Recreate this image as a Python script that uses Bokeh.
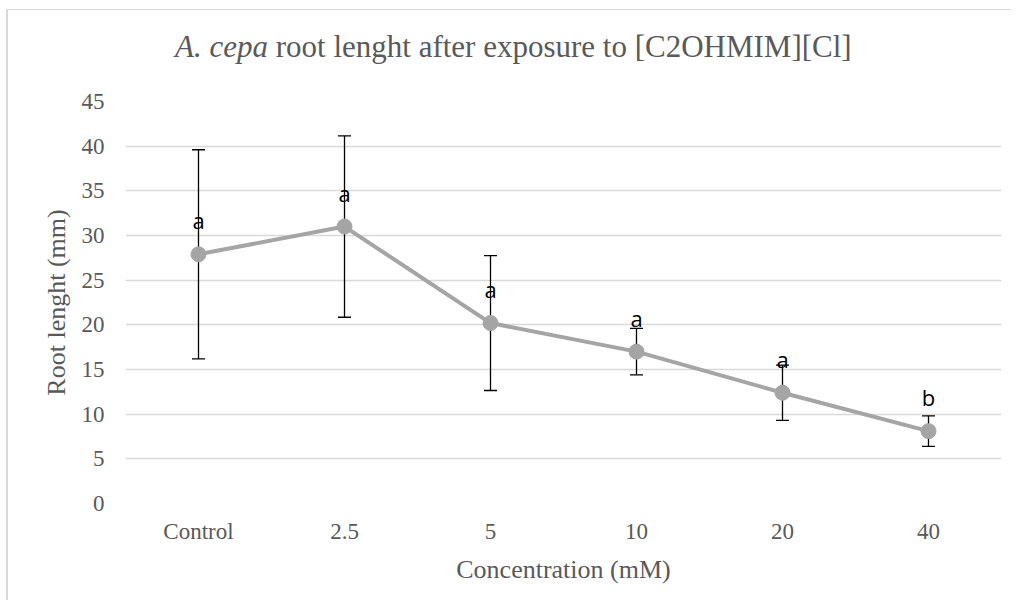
from bokeh.plotting import figure
from bokeh.models import (ColumnDataSource, FactorRange, Range1d, Whisker, TeeHead,
                          FixedTicker, Div)
from bokeh.layouts import column
from bokeh.core.properties import value
from bokeh.embed import file_html
from bokeh.resources import INLINE

categories = ["Control", "2.5", "5", "10", "20", "40"]
root_length = [27.9, 31.0, 20.2, 17.0, 12.4, 8.1]
std_dev = [11.7, 10.15, 7.55, 2.6, 3.1, 1.7]
letters = ["a", "a", "a", "a", "a", "b"]
y_ticks = [0, 5, 10, 15, 20, 25, 30, 35, 40, 45]

title_italic = "A. cepa"
title_rest = "root lenght after exposure to [C2OHMIM][Cl]"
x_title = "Concentration (mM)"
y_title = "Root lenght (mm)"

source = ColumnDataSource(dict(
    x=categories,
    y=root_length,
    upper=[m + s for m, s in zip(root_length, std_dev)],
    lower=[m - s for m, s in zip(root_length, std_dev)],
    letter=letters,
))

serif = "Liberation Serif"
grey = "#595959"

W = 1003
title_div = Div(
    text=(f'<div style="font-family:\'{serif}\',serif; font-size:31px; line-height:31px; '
          f'color:{grey}; text-align:left; padding-top:21px; padding-left:167px; '
          f'white-space:nowrap;"><i>{title_italic}</i> {title_rest}</div>'),
    width=W, height=71, margin=0)

p = figure(width=W, height=519, output_backend="svg", toolbar_location=None,
           x_range=FactorRange(*categories, range_padding=0),
           y_range=Range1d(0, 45),
           min_border_left=117, min_border_right=10,
           min_border_top=20, min_border_bottom=97, margin=0)
p.outline_line_color = None
p.background_fill_color = "white"
p.border_fill_color = "white"

# axes
p.yaxis.ticker = FixedTicker(ticks=y_ticks)
for ax in (p.xaxis[0], p.yaxis[0]):
    ax.axis_line_color = None
    ax.major_tick_line_color = None
    ax.minor_tick_line_color = None
    ax.major_label_text_font = serif
    ax.major_label_text_font_size = "23px"
    ax.major_label_text_color = grey
    ax.axis_label_text_font = serif
    ax.axis_label_text_font_size = "26px"
    ax.axis_label_text_font_style = "normal"
    ax.axis_label_text_color = grey
p.xaxis.axis_label = x_title
p.yaxis.axis_label = y_title
p.xaxis.major_label_standoff = 9
p.xaxis.axis_label_standoff = 8
p.yaxis.major_label_standoff = 15
p.yaxis.axis_label_standoff = 8

p.xgrid.grid_line_color = None
p.ygrid.grid_line_color = "#d9d9d9"
p.ygrid.grid_line_width = 1.3

# error bars
whisk = Whisker(source=source, base="x", upper="upper", lower="lower",
                line_color="black", line_width=1.3,
                upper_head=TeeHead(size=13, line_color="black", line_width=1.3),
                lower_head=TeeHead(size=13, line_color="black", line_width=1.3))
p.add_layout(whisk)

# line and markers
p.line("x", "y", source=source, line_color="#a5a5a5", line_width=4)
p.scatter("x", "y", source=source, size=15, fill_color="#a5a5a5", line_color="#a5a5a5")

# significance letters
p.text("x", "y", text="letter", source=source, y_offset=-34,
       text_align="center", text_baseline="alphabetic",
       text_font=value("Open Sans"), text_font_size="22px", text_color="black")

layout = column(title_div, p, spacing=0,
                styles={"margin-left": "6px", "margin-top": "9px",
                        "border-left": "2px solid #d9d9d9", "border-top": "1px solid #d9d9d9"})

open("out.html", "w").write(file_html(layout, INLINE))
